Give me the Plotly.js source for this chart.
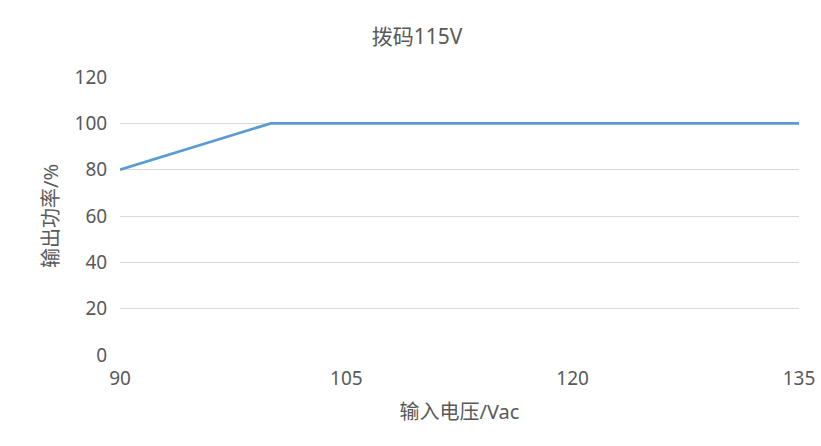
<!DOCTYPE html>
<html>
<head>
<meta charset="utf-8">
<script src="https://cdn.plot.ly/plotly-3.0.1.min.js"></script>
<style>html,body{margin:0;padding:0;background:#fff;}#chart{width:821px;height:446px;}</style>
</head>
<body>
<div id="chart"></div>
<script>
const voltage = [90, 100, 135];
const power = [80, 100, 100];
const xTicks = [90, 105, 120, 135];
const yTicks = [0, 20, 40, 60, 80, 100, 120];
const chartTitle = "拨码115V";
const xTitle = "输入电压/Vac";
const yTitle = "输出功率/%";

const fontFam = "'Noto Sans', 'Noto Sans CJK SC', sans-serif";
const textColor = "#595959";

Plotly.newPlot("chart", [{
  x: voltage, y: power, type: "scatter", mode: "lines",
  line: {color: "#5b9bd5", width: 2.75},
  hoverinfo: "skip"
}], {
  width: 821, height: 446,
  paper_bgcolor: "#ffffff", plot_bgcolor: "rgba(0,0,0,0)",
  margin: {l: 120, r: 22, t: 77, b: 91},
  showlegend: false,
  font: {family: fontFam, color: textColor, size: 19},
  title: {text: chartTitle, x: 0.508, xanchor: "center", y: 1 - 37/446, yanchor: "middle",
          font: {family: fontFam, size: 21, color: textColor}},
  xaxis: {
    range: [90, 135], tickvals: xTicks, ticktext: xTicks.map(String),
    showgrid: false, zeroline: false, showline: false,
    ticks: "outside", ticklen: 6, tickcolor: "rgba(0,0,0,0)",
    tickfont: {size: 19, color: textColor},
    title: {text: xTitle, standoff: 15, font: {size: 20, color: textColor}}
  },
  yaxis: {
    range: [0, 120], tickvals: yTicks, ticktext: yTicks.map(String),
    showgrid: true, gridcolor: "#d9d9d9", gridwidth: 1, zeroline: false, showline: false,
    ticks: "outside", ticklen: 8, tickcolor: "rgba(0,0,0,0)",
    tickfont: {size: 19, color: textColor},
    title: {text: yTitle, standoff: 10, font: {size: 20, color: textColor}}
  }
}, {displayModeBar: false, staticPlot: true});
</script>
</body>
</html>
